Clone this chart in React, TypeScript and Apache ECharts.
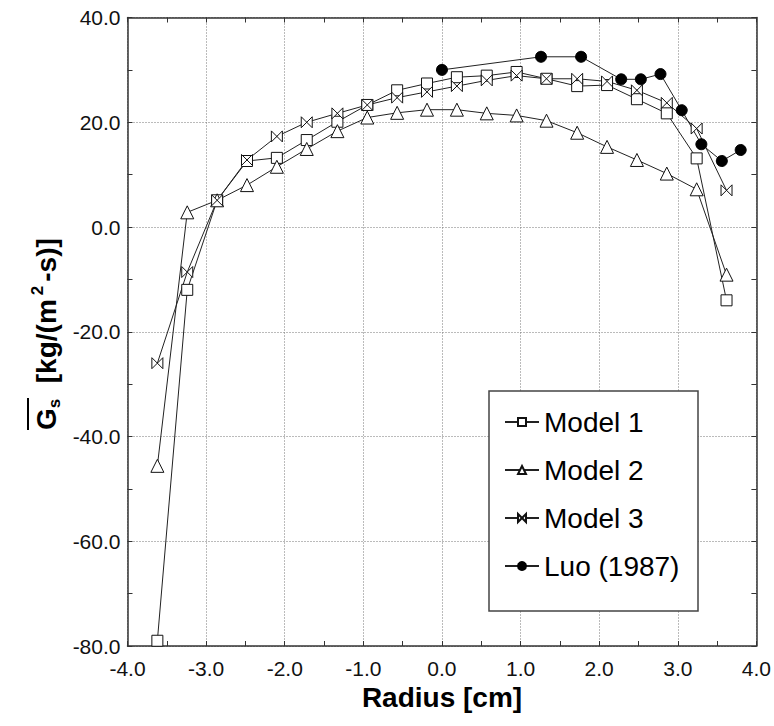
import React, { useEffect, useRef } from "react";
import * as echarts from "echarts";

const radius = [-3.62, -3.24, -2.86, -2.48, -2.1, -1.72, -1.33, -0.95, -0.57, -0.19, 0.19, 0.57, 0.95, 1.33, 1.72, 2.1, 2.48, 2.86, 3.24, 3.62];
const model1 = [-79.0, -12.0, 5.1, 12.6, 13.2, 16.6, 20.1, 23.3, 26.1, 27.4, 28.6, 28.9, 29.6, 28.3, 26.9, 27.1, 24.4, 21.7, 13.1, -14.0];
const model2 = [-45.6, 2.8, 5.1, 8.0, 11.5, 14.9, 18.3, 20.9, 21.8, 22.4, 22.4, 21.7, 21.3, 20.3, 18.0, 15.3, 12.8, 10.2, 7.2, -9.1];
const model3 = [-26.0, -8.6, 5.1, 12.8, 17.3, 20.0, 21.7, 23.3, 24.7, 25.8, 26.9, 28.0, 28.9, 28.3, 28.3, 27.8, 26.1, 23.7, 18.8, 7.0];
const luoRadius = [0.0, 1.26, 1.77, 2.28, 2.53, 2.78, 3.05, 3.3, 3.56, 3.8];
const luo = [30.0, 32.5, 32.5, 28.2, 28.2, 29.2, 22.3, 15.8, 12.6, 14.7];
const seriesNames = ["Model 1", "Model 2", "Model 3", "Luo (1987)"];

const FONT = "'Liberation Sans', Arial, sans-serif";

export default function App() {
  const ref = useRef<HTMLDivElement>(null);
  useEffect(() => {
    if (!ref.current) return;
    const chart = echarts.init(ref.current, null, { renderer: "svg" });
    const pair = (xs: number[], ys: number[]) => xs.map((x, i) => [x, ys[i]]);
    const lineStyle = { color: "#222", width: 1 };
    const itemStyle = { color: "#fff", borderColor: "#111", borderWidth: 1 };
    const axisCommon = {
      type: "value" as const,
      axisLine: { show: true, onZero: false, lineStyle: { color: "#333", width: 1.5 } },
      axisTick: { show: true, inside: true, length: 5, lineStyle: { color: "#333" } },
      minorTick: { show: true, splitNumber: 2, length: 5, lineStyle: { color: "#333" } },
    };
    const grid = { show: true, lineStyle: { color: "#777", type: [1, 2], width: 1 } };
    chart.setOption({
      animation: false,
      backgroundColor: "#fff",
      grid: { left: 127.5, top: 17.5, width: 629.5, height: 628.5, containLabel: false },
      xAxis: [
        {
          ...axisCommon,
          min: -4,
          max: 4,
          interval: 1,
          position: "bottom",
          axisLabel: { formatter: (v: number) => v.toFixed(1), fontSize: 21, color: "#111", fontFamily: FONT, margin: 12 },
          splitLine: grid,
        },
        {
          ...axisCommon,
          min: -4,
          max: 4,
          interval: 1,
          position: "top",
          axisLabel: { show: false },
          splitLine: { show: false },
        },
      ],
      yAxis: [
        {
          ...axisCommon,
          min: -80,
          max: 40,
          interval: 20,
          position: "left",
          axisLabel: { formatter: (v: number) => v.toFixed(1), fontSize: 21, color: "#111", fontFamily: FONT, margin: 7 },
          splitLine: grid,
        },
        {
          ...axisCommon,
          min: -80,
          max: 40,
          interval: 20,
          position: "right",
          axisLabel: { show: false },
          splitLine: { show: false },
        },
      ],
      legend: {
        data: seriesNames,
        orient: "vertical",
        left: 504,
        top: 408,
        padding: 0,
        itemGap: 20,
        itemWidth: 34,
        itemHeight: 10,
        z: 10,
        textStyle: { fontSize: 28, color: "#000", fontFamily: FONT, padding: [0, 0, 0, 0] },
      },
      graphic: [
        {
          type: "rect",
          z: 3,
          shape: { x: 489, y: 391, width: 209, height: 220 },
          style: { fill: "#fff", stroke: "#444", lineWidth: 1.5 },
        },
        {
          type: "group",
          x: 46,
          y: 430,
          rotation: Math.PI / 2,
          children: [
            {
              type: "text",
              x: 0,
              y: 0,
              style: {
                text: "{g|G}{sub|s}{n|  [kg/(m}{sup|2}{n|-s)]}",
                align: "left",
                verticalAlign: "middle",
                textAlign: "left",
                textVerticalAlign: "middle",
                fill: "#000",
                rich: {
                  g: { fontSize: 28, fontWeight: "bold", fontFamily: FONT, lineHeight: 34 },
                  n: { fontSize: 28, fontWeight: "bold", fontFamily: FONT, lineHeight: 34 },
                  sub: { fontSize: 17, fontWeight: "bold", fontFamily: FONT, lineHeight: 17, verticalAlign: "bottom" },
                  sup: { fontSize: 17, fontWeight: "bold", fontFamily: FONT, lineHeight: 17, verticalAlign: "top", padding: [0, 4, 0, 4] },
                },
              },
            },
            {
              type: "line",
              shape: { x1: 0, y1: -18, x2: 32, y2: -18 },
              style: { stroke: "#000", lineWidth: 2 },
            },
          ],
        },
        {
          type: "text",
          x: 442,
          y: 697,
          style: {
            text: "Radius [cm]",
            fontSize: 28,
            fontWeight: "bold",
            fontFamily: FONT,
            fill: "#000",
            align: "center",
            verticalAlign: "middle",
            textAlign: "center",
            textVerticalAlign: "middle",
          },
        },
      ],
      series: [
        {
          name: "Model 1",
          type: "line",
          data: pair(radius, model1),
          symbol: "rect",
          symbolSize: 11,
          lineStyle,
          itemStyle,
        },
        {
          name: "Model 2",
          type: "line",
          data: pair(radius, model2),
          symbol: "triangle",
          symbolSize: 13,
          lineStyle,
          itemStyle,
        },
        {
          name: "Model 3",
          type: "line",
          data: pair(radius, model3),
          symbol: "path://M0,0L0,10L10,0L10,10Z",
          symbolSize: 11,
          lineStyle,
          itemStyle,
        },
        {
          name: "Luo (1987)",
          type: "line",
          data: pair(luoRadius, luo),
          symbol: "circle",
          symbolSize: 11,
          lineStyle,
          itemStyle: { color: "#000", borderColor: "#000", borderWidth: 1 },
        },
      ],
    });
    return () => chart.dispose();
  }, []);
  return <div ref={ref} style={{ width: 774, height: 726, position: "absolute", left: 0, top: 0 }} />;
}
